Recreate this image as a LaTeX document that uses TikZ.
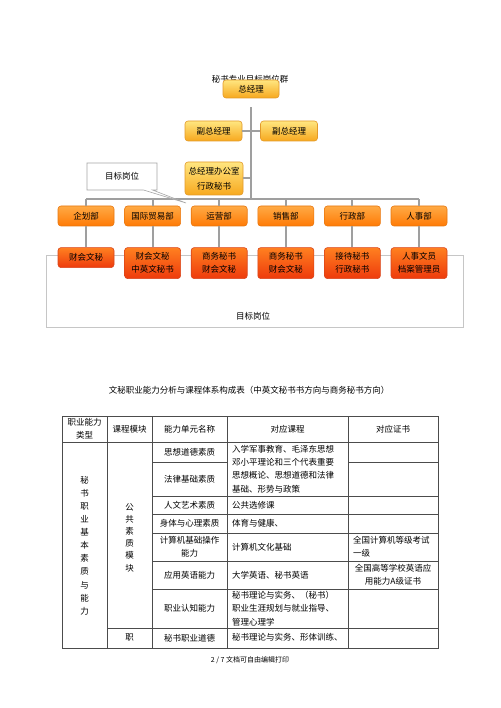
\documentclass[tikz,border=0pt]{standalone}
\usepackage{fontspec}
\setmainfont{Noto Sans CJK SC}
\usetikzlibrary{positioning,shapes.callouts}
\usepackage{xcolor}
\definecolor{goldtop}{HTML}{FFE680}
\definecolor{goldbot}{HTML}{F7A81E}
\definecolor{goldline}{HTML}{E39A2A}
\definecolor{orgtop}{HTML}{FFAA45}
\definecolor{orgbot}{HTML}{FF7A05}
\definecolor{orgline}{HTML}{E8770F}
\definecolor{redtop}{HTML}{FF8020}
\definecolor{redbot}{HTML}{EE3A0C}
\definecolor{redline}{HTML}{D9441A}

\begin{document}
\begin{tikzpicture}[
        x=1pt, y=-1pt,
        every node/.style={font=\fontsize{8.5}{10}\selectfont},
        box/.style={draw, rounded corners=3pt, minimum width=56pt, minimum height=20pt, inner sep=1pt, align=center, line width=0.6pt},
        chief/.style={box, top color=goldtop, bottom color=goldbot, draw=goldline},
        dept/.style={box, top color=orgtop, bottom color=orgbot, draw=orgline},
        post/.style={box, top color=redtop, bottom color=redbot, draw=redline, minimum height=31pt, font=\fontsize{8.5}{13}\selectfont},
        link/.style={gray!75, line width=2pt},
        frame/.style={gray!45, line width=0.7pt},
        grid/.style={gray!60!black, line width=0.5pt},
        cell/.style={inner sep=0pt, align=center, font=\fontsize{8.5}{13.2}\selectfont}
    ]
        \useasboundingbox[fill=white] (0,0) rectangle (500,708);

        % Org chart title (half hidden by the top box)
        \node (charttitle) at (250,79) {秘书专业目标岗位群};

        % Management
        \node[chief, minimum height=18pt] (boss) at (251,89) {总经理};
        \node[chief, minimum width=57pt] (vpleft) at (213.5,131) {副总经理};
        \node[chief, minimum width=57pt] (vpright) at (289,131) {副总经理};
        \node[chief, minimum width=58pt, minimum height=33pt, font=\fontsize{8.5}{15}\selectfont] (office) at (214,178.5) {总经理办公室\\行政秘书};

        % Departments
        \node[dept] (d1) at (86,216) {企划部};
        \node[dept, right=10pt of d1] (d2) {国际贸易部};
        \node[dept, right=10pt of d2] (d3) {运营部};
        \node[dept, right=10pt of d3] (d4) {销售部};
        \node[dept, right=10pt of d4] (d5) {行政部};
        \node[dept, right=10pt of d5] (d6) {人事部};

        % Frame round the target posts
        \draw[frame] (46,255) rectangle (463,327);
        \node (framelabel) at (253,316) {目标岗位};

        % Target posts
        \node[post, minimum height=20pt, below=21pt of d1] (p1) {财会文秘};
        \node[post, below=21pt of d2] (p2) {财会文秘\\中英文秘书};
        \node[post, below=21pt of d3] (p3) {商务秘书\\财会文秘};
        \node[post, below=21pt of d4] (p4) {商务秘书\\财会文秘};
        \node[post, below=21pt of d5] (p5) {接待秘书\\行政秘书};
        \node[post, below=21pt of d6] (p6) {人事文员\\档案管理员};

        % Connectors
        \coordinate (trunk) at ([yshift=-9pt]boss.south);
        \coordinate (bus) at (251,199);
        \draw[link] (trunk) -- (bus);
        \draw[link] (vpleft.east) -- (vpright.west);
        \draw[link] (office.east) -- (office.east -| trunk);
        \draw[link] (d1.north |- bus) -- (d6.north |- bus);
        \foreach \i in {1,...,6} {
            \draw[link] (d\i.north |- bus) -- (d\i.north);
            \draw[link] (d\i.south) -- (p\i.north);
        }

        % Callout
        \node[rectangle callout, draw=gray!70, fill=white, line width=0.6pt, minimum width=70pt, minimum height=27pt,
              callout absolute pointer={(186,203)}, callout pointer width=9pt] (tag) at (122,176.5) {目标岗位};

        % Table title
        \node (tabtitle) at (249,390) {文秘职业能力分析与课程体系构成表（中英文秘书书方向与商务秘书方向）};

        % Table grid
        \draw[grid] (62,416) rectangle (438,648);
        \foreach \cx in {107,152,227,348} \draw[grid] (\cx,416) -- (\cx,648);
        \draw[grid] (62,442) -- (438,442);
        \draw[grid] (152,462) -- (227,462) (348,462) -- (438,462);
        \foreach \ry in {496,514,533,561,589} \draw[grid] (152,\ry) -- (438,\ry);
        \draw[grid] (107,628) -- (438,628);

        % Header
        \node[cell] (h1) at (84.5,429) {职业能力\\类型};
        \node[cell] (h2) at (129.5,429) {课程模块};
        \node[cell] (h3) at (189.5,429) {能力单元名称};
        \node[cell] (h4) at (287.5,429) {对应课程};
        \node[cell] (h5) at (393,429) {对应证书};

        % Column 1 and 2
        \node[cell, font=\fontsize{8.5}{13.1}\selectfont] (type) at (84.5,545.5) {秘\\书\\职\\业\\基\\本\\素\\质\\与\\能\\力};
        \node[cell, font=\fontsize{8.5}{12.2}\selectfont] (modA) at (129.5,537.5) {公\\共\\素\\质\\模\\块};
        \node[cell] (modB) at (129.5,637) {职};

        % Column 3
        \node[cell] (u1) at (189.5,452) {思想道德素质};
        \node[cell] (u2) at (189.5,479) {法律基础素质};
        \node[cell] (u3) at (189.5,505) {人文艺术素质};
        \node[cell] (u4) at (189.5,523.5) {身体与心理素质};
        \node[cell] (u5) at (189.5,547) {计算机基础操作\\能力};
        \node[cell] (u6) at (189.5,575) {应用英语能力};
        \node[cell] (u7) at (189.5,608.5) {职业认知能力};
        \node[cell] (u8) at (189.5,638) {秘书职业道德};

        % Column 4
        \node[cell, anchor=west, align=left] (c1) at (232,469) {入学军事教育、毛泽东思想\\邓小平理论和三个代表重要\\思想概论、思想道德和法律\\基础、形势与政策};
        \node[cell, anchor=west] (c3) at (232,505) {公共选修课};
        \node[cell, anchor=west] (c4) at (232,523.5) {体育与健康、};
        \node[cell, anchor=west] (c5) at (232,547) {计算机文化基础};
        \node[cell, anchor=west] (c6) at (232,575) {大学英语、秘书英语};
        \node[cell, anchor=west, align=left] (c7) at (232,608.5) {秘书理论与实务、（秘书）\\职业生涯规划与就业指导、\\管理心理学};
        \node[cell, anchor=west] (c8) at (232,637) {秘书理论与实务、形体训练、};

        % Column 5
        \node[cell, anchor=west, align=left] (z5) at (353,547) {全国计算机等级考试\\一级};
        \node[cell] (z6) at (393,575) {全国高等学校英语应\\用能力A级证书};

        % Footer
        \node[font=\fontsize{7}{8}\selectfont] (footer) at (250,660) {2 / 7 文档可自由编辑打印};
    \end{tikzpicture}
\end{document}
